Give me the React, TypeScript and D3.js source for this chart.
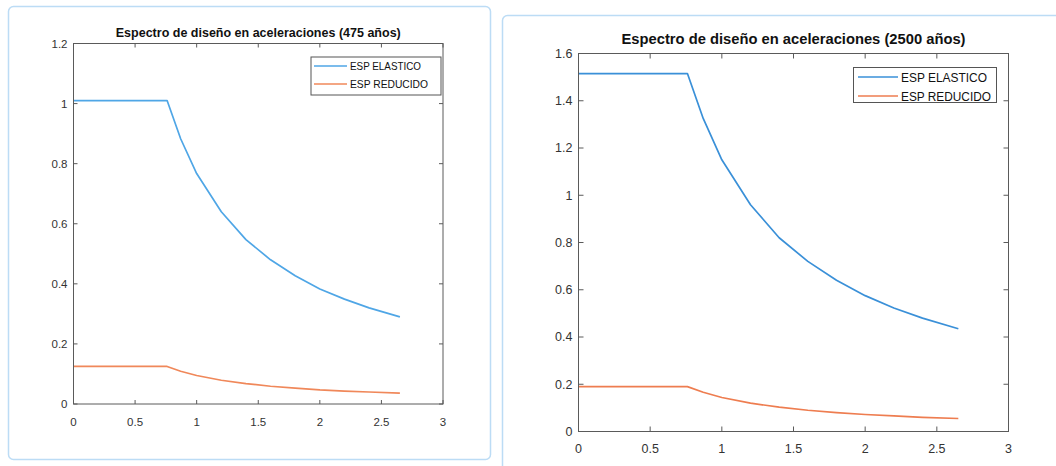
import React from "react";
import * as d3 from "d3";

// ---------- data ----------
const periods = [0, 0.76, 0.87, 1.0, 1.2, 1.4, 1.6, 1.8, 2.0, 2.2, 2.4, 2.65];

const elastic475 = [1.01, 1.01, 0.883, 0.767, 0.64, 0.547, 0.48, 0.427, 0.383, 0.349, 0.32, 0.29];
const reduced475 = [0.125, 0.125, 0.109, 0.095, 0.079, 0.068, 0.059, 0.053, 0.047, 0.043, 0.04, 0.036];

const elastic2500 = [1.515, 1.515, 1.325, 1.15, 0.96, 0.82, 0.72, 0.64, 0.575, 0.523, 0.48, 0.435];
const reduced2500 = [0.19, 0.19, 0.166, 0.144, 0.12, 0.103, 0.09, 0.08, 0.072, 0.066, 0.06, 0.055];

const xTicks = [0, 0.5, 1, 1.5, 2, 2.5, 3];
const xTickLabels = ["0", "0.5", "1", "1.5", "2", "2.5", "3"];
const yTicks475 = [0, 0.2, 0.4, 0.6, 0.8, 1, 1.2];
const yTickLabels475 = ["0", "0.2", "0.4", "0.6", "0.8", "1", "1.2"];
const yTicks2500 = [0, 0.2, 0.4, 0.6, 0.8, 1, 1.2, 1.4, 1.6];
const yTickLabels2500 = ["0", "0.2", "0.4", "0.6", "0.8", "1", "1.2", "1.4", "1.6"];

const title475 = "Espectro de diseño en aceleraciones (475 años)";
const title2500 = "Espectro de diseño en aceleraciones (2500 años)";
const legendLabels = ["ESP ELASTICO", "ESP REDUCIDO"];

const FONT = "'Liberation Sans', Arial, Helvetica, sans-serif";

type PanelProps = {
  x0: number; x1: number; y0: number; y1: number;
  yMax: number;
  yTicks: number[]; yLabels: string[];
  elastic: number[]; reduced: number[];
  title: string; titleSize: number; titleY: number; titleLen: number;
  tickSize: number; tickLen: number; xLabelY: number; yLabelGap: number;
  legend: { x: number; y: number; w: number; h: number; lineX0: number; lineX1: number; textX: number; rowY: number[]; size: number; textLen: number[] };
  blue: string; orange: string;
};

function Panel(p: PanelProps) {
  const xs = d3.scaleLinear().domain([0, 3]).range([p.x0, p.x1]);
  const ys = d3.scaleLinear().domain([0, p.yMax]).range([p.y1, p.y0]);
  const line = d3
    .line<number>()
    .x((_, i) => xs(periods[i]))
    .y((v) => ys(v));
  const axisColor = "#5a5a5a";
  const labelColor = "#333";
  return (
    <g>
      <text
        x={(p.x0 + p.x1) / 2}
        y={p.titleY}
        textAnchor="middle"
        fontFamily={FONT}
        fontWeight="bold"
        fontSize={p.titleSize}
        fill="#111"
        textLength={p.titleLen}
        lengthAdjust="spacingAndGlyphs"
      >
        {p.title}
      </text>
      <path d={line(p.elastic) || ""} fill="none" stroke={p.blue} strokeWidth={1.7} strokeLinejoin="round" />
      <path d={line(p.reduced) || ""} fill="none" stroke={p.orange} strokeWidth={1.7} strokeLinejoin="round" />
      <rect x={p.x0} y={p.y0} width={p.x1 - p.x0} height={p.y1 - p.y0} fill="none" stroke={axisColor} strokeWidth={1} />
      {xTicks.map((t, i) => (
        <g key={"x" + i}>
          <line x1={xs(t)} x2={xs(t)} y1={p.y1} y2={p.y1 - p.tickLen} stroke={axisColor} />
          <line x1={xs(t)} x2={xs(t)} y1={p.y0} y2={p.y0 + p.tickLen} stroke={axisColor} />
          <text x={xs(t)} y={p.xLabelY} textAnchor="middle" fontFamily={FONT} fontSize={p.tickSize} fill={labelColor}>
            {xTickLabels[i]}
          </text>
        </g>
      ))}
      {p.yTicks.map((t, i) => (
        <g key={"y" + i}>
          <line x1={p.x0} x2={p.x0 + p.tickLen} y1={ys(t)} y2={ys(t)} stroke={axisColor} />
          <line x1={p.x1} x2={p.x1 - p.tickLen} y1={ys(t)} y2={ys(t)} stroke={axisColor} />
          <text
            x={p.x0 - p.yLabelGap}
            y={ys(t)}
            dy="0.35em"
            textAnchor="end"
            fontFamily={FONT}
            fontSize={p.tickSize}
            fill={labelColor}
          >
            {p.yLabels[i]}
          </text>
        </g>
      ))}
      <rect x={p.legend.x} y={p.legend.y} width={p.legend.w} height={p.legend.h} fill="#fff" stroke="#555" strokeWidth={1} />
      {[p.blue, p.orange].map((c, i) => (
        <g key={"l" + i}>
          <line x1={p.legend.lineX0} x2={p.legend.lineX1} y1={p.legend.rowY[i]} y2={p.legend.rowY[i]} stroke={c} strokeWidth={1.7} />
          <text
            x={p.legend.textX}
            y={p.legend.rowY[i]}
            dy="0.36em"
            fontFamily={FONT}
            fontSize={p.legend.size}
            fill="#111"
            textLength={p.legend.textLen[i]}
            lengthAdjust="spacingAndGlyphs"
          >
            {legendLabels[i]}
          </text>
        </g>
      ))}
    </g>
  );
}

export default function App() {
  return (
    <svg
      width={1056}
      height={466}
      style={{ position: "fixed", left: 0, top: 0, background: "#fff" }}
    >
      <rect x={0} y={0} width={1056} height={466} fill="#fff" />
      <rect x={8.5} y={6.5} width={482} height={453} rx={5} fill="none" stroke="#bcdcf5" strokeWidth={1.5} />
      <rect x={502.5} y={15.5} width={600} height={500} rx={5} fill="none" stroke="#bcdcf5" strokeWidth={1.5} />
      <Panel
        x0={73.5} x1={443} y0={43.5} y1={404}
        yMax={1.2}
        yTicks={yTicks475} yLabels={yTickLabels475}
        elastic={elastic475} reduced={reduced475}
        title={title475} titleSize={13} titleY={37} titleLen={285}
        tickSize={11.5} tickLen={4} xLabelY={426} yLabelGap={6}
        legend={{ x: 311, y: 57, w: 130, h: 38, lineX0: 314, lineX1: 347, textX: 350, rowY: [66, 84], size: 11, textLen: [71, 78] }}
        blue="#4fa6e6" orange="#f0885a"
      />
      <Panel
        x0={578.5} x1={1008.5} y0={53.5} y1={431.5}
        yMax={1.6}
        yTicks={yTicks2500} yLabels={yTickLabels2500}
        elastic={elastic2500} reduced={reduced2500}
        title={title2500} titleSize={15} titleY={44} titleLen={344}
        tickSize={12.5} tickLen={5} xLabelY={453} yLabelGap={6}
        legend={{ x: 853.5, y: 67.5, w: 143, h: 35, lineX0: 858, lineX1: 898, textX: 901, rowY: [77, 96], size: 12.5, textLen: [86, 90] }}
        blue="#3a90d8" orange="#ee7d50"
      />
    </svg>
  );
}
